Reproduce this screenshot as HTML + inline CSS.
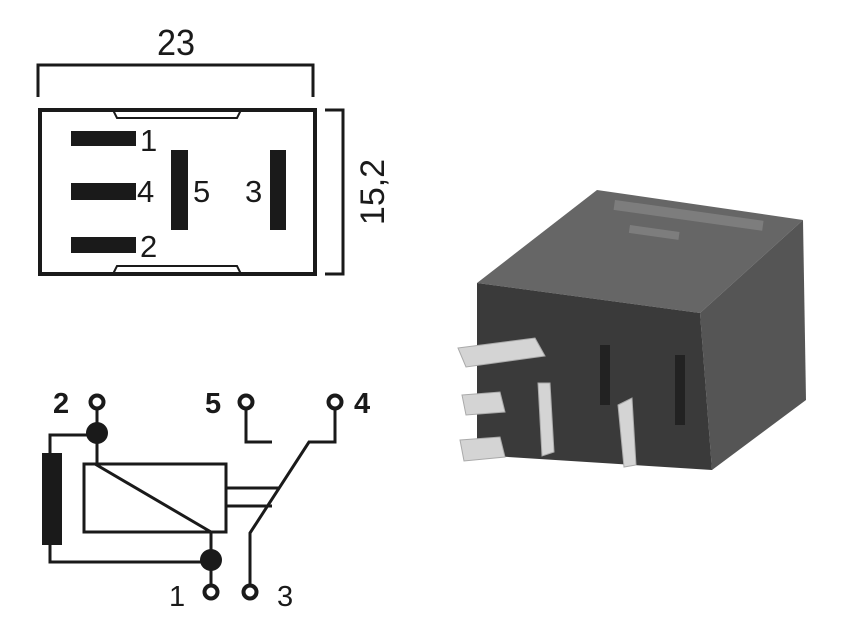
<!DOCTYPE html>
<html><head><meta charset="utf-8"><style>
html,body{margin:0;padding:0;background:#fff;width:850px;height:638px;overflow:hidden}
svg{display:block}
text{font-family:"Liberation Sans","DejaVu Sans",sans-serif;fill:#1a1a1a}
</style></head><body>
<svg width="850" height="638" viewBox="0 0 850 638" xmlns="http://www.w3.org/2000/svg">
<g stroke="#1a1a1a" fill="none">
<polyline points="38,97 38,65 313,65 313,97" stroke-width="3"/>
<rect x="40" y="110" width="275" height="164" stroke-width="4"/>
<polyline points="113,110 117,118 237,118 241,110" stroke-width="2"/>
<polyline points="113,274 117,266 237,266 241,274" stroke-width="2"/>
<polyline points="325,110 343,110 343,274 325,274" stroke-width="3"/>
</g>
<g fill="#1a1a1a">
<rect x="71" y="131" width="65" height="15"/>
<rect x="71" y="183" width="65" height="17"/>
<rect x="71" y="237" width="65" height="16"/>
<rect x="171" y="150" width="17" height="80"/>
<rect x="270" y="150" width="16" height="80"/>
</g>
<text x="176" y="55" font-size="36" text-anchor="middle" transform="translate(176,0) scale(0.95,1) translate(-176,0)">23</text>
<text x="140" y="151" font-size="31">1</text>
<text x="137" y="202" font-size="31">4</text>
<text x="140" y="257" font-size="31">2</text>
<text x="193" y="202" font-size="31">5</text>
<text x="245" y="202" font-size="31">3</text>
<text x="0" y="0" font-size="34" text-anchor="middle" transform="translate(384,192) rotate(-90)">15,2</text>

<g stroke="#1a1a1a" stroke-width="3" fill="none">
<line x1="97" y1="409" x2="97" y2="463"/>
<polyline points="97,435 50,435 50,562 211,562"/>
<rect x="84" y="464" width="142" height="68"/>
<line x1="95" y1="464" x2="211" y2="532"/>
<line x1="211" y1="532" x2="211" y2="585"/>
<line x1="226" y1="488" x2="280" y2="488"/>
<line x1="226" y1="506" x2="272" y2="506"/>
<polyline points="250,585 250,533 309,442 335,442 335,409"/>
<polyline points="246,409 246,442 272,442"/>
</g>
<g stroke="#1a1a1a" stroke-width="4" fill="none">
<circle cx="97" cy="402" r="6.5"/>
<circle cx="246" cy="402" r="6.5"/>
<circle cx="335" cy="402" r="6.5"/>
<circle cx="211" cy="592" r="6.5"/>
<circle cx="250" cy="592" r="6.5"/>
</g>
<rect x="42" y="453" width="20" height="92" fill="#1a1a1a"/>
<circle cx="97" cy="433" r="11" fill="#1a1a1a"/>
<circle cx="211" cy="560" r="11" fill="#1a1a1a"/>
<g font-size="29" font-weight="bold">
<text x="53" y="413">2</text>
<text x="205" y="413">5</text>
<text x="354" y="413">4</text>
<text x="169" y="606" font-weight="normal">1</text>
<text x="277" y="606" font-weight="normal">3</text>
</g>

<polygon points="477,283 597,190 803,220 700,313" fill="#666"/>
<polygon points="700,313 803,220 806,400 712,470" fill="#555"/>
<polygon points="477,283 700,313 712,470 477,455" fill="#3a3a3a"/>
<g fill="#d4d4d4" stroke="#aaa" stroke-width="1">
<polygon points="458,348 535,338 545,356 466,367"/>
<polygon points="462,395 500,392 505,412 466,415"/>
<polygon points="460,440 500,437 505,457 464,461"/>
<polygon points="538,383 550,383 554,452 542,456"/>
<polygon points="618,405 632,398 636,465 624,467"/>
</g>
<g fill="#222">
<rect x="600" y="345" width="10" height="60"/>
<rect x="675" y="355" width="10" height="70"/>
</g>
<g fill="#888" opacity="0.7">
<rect x="615" y="200" width="150" height="10" transform="rotate(8 615 200)"/>
<rect x="630" y="225" width="50" height="8" transform="rotate(8 630 225)"/>
</g>
</svg>
</body></html>
